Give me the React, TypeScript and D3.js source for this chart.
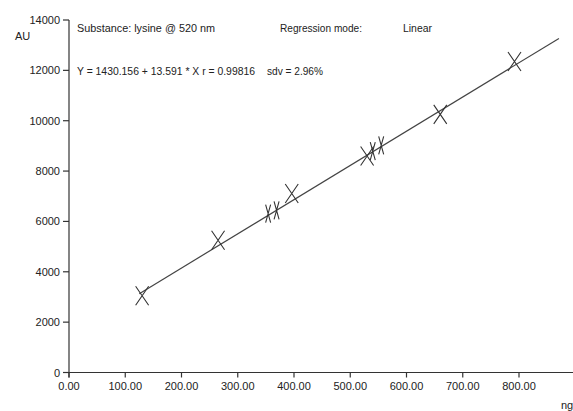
import React, { useEffect, useRef } from "react";
import * as d3 from "d3";

// calibration points
const bigX = [130, 265, 396, 530, 660, 792];
const bigY = [3050, 5250, 7110, 8600, 10250, 12350];
const smallX = [354, 369, 540, 555];
const smallY = [6310, 6440, 8790, 9020];

const xTicks = [0, 100, 200, 300, 400, 500, 600, 700, 800];
const yTicks = [0, 2000, 4000, 6000, 8000, 10000, 12000, 14000];

// regression from the chart text
const intercept = 1430.156;
const slope = 13.591;
const lineRange = [125, 871];

const App = () => {
  const ref = useRef<SVGSVGElement>(null);

  useEffect(() => {
    const width = 573;
    const height = 411;
    const svg = d3.select(ref.current).attr("width", width).attr("height", height);
    svg.selectAll("*").remove();

    const x = d3.scaleLinear().domain([0, 800]).range([69, 519]);
    const y = d3.scaleLinear().domain([0, 14000]).range([372.5, 20]);
    const ink = "#333";
    const font = "'Liberation Sans', Arial, sans-serif";

    svg.append("rect").attr("width", width).attr("height", height).attr("fill", "#fff");

    // y axis
    svg.append("line")
      .attr("x1", x(0)).attr("x2", x(0))
      .attr("y1", y(14000)).attr("y2", y(0) + 5)
      .attr("stroke", ink).attr("stroke-width", 1.2);
    svg.selectAll(".ytick").data(yTicks).join("line")
      .attr("x1", x(0) - 6).attr("x2", x(0))
      .attr("y1", d => y(d)).attr("y2", d => y(d))
      .attr("stroke", ink).attr("stroke-width", 1.2);
    svg.selectAll(".ylab").data(yTicks).join("text")
      .attr("x", x(0) - 9).attr("y", d => y(d) + 4)
      .attr("text-anchor", "end")
      .style("font-family", font).style("font-size", "11px").attr("fill", "#222")
      .text(d => d);
    svg.append("text").attr("x", 15).attr("y", 40)
      .style("font-family", font).style("font-size", "11px").attr("fill", "#222")
      .text("AU");

    // x axis
    svg.append("line")
      .attr("x1", x(0)).attr("x2", width)
      .attr("y1", y(0)).attr("y2", y(0))
      .attr("stroke", ink).attr("stroke-width", 1.2);
    svg.selectAll(".xtick").data(xTicks).join("line")
      .attr("x1", d => x(d)).attr("x2", d => x(d))
      .attr("y1", y(0)).attr("y2", y(0) + 5)
      .attr("stroke", ink).attr("stroke-width", 1.2);
    svg.selectAll(".xlab").data(xTicks).join("text")
      .attr("x", d => x(d)).attr("y", y(0) + 17)
      .attr("text-anchor", "middle")
      .style("font-family", font).style("font-size", "11px").attr("fill", "#222")
      .text(d => d3.format(".2f")(d));
    svg.append("text").attr("x", 561).attr("y", 409)
      .style("font-family", font).style("font-size", "11px").attr("fill", "#222")
      .text("ng");

    // header texts
    const header = [
      { t: "Substance: lysine @ 520 nm", x: 77, y: 32, w: 138 },
      { t: "Regression mode:", x: 280, y: 32, w: 82 },
      { t: "Linear", x: 403, y: 32, w: 29 },
      { t: "Y = 1430.156 + 13.591 * X  r = 0.99816", x: 77, y: 75, w: 178 },
      { t: "sdv = 2.96%", x: 267, y: 75, w: 56 },
    ];
    svg.selectAll(".hdr").data(header).join("text")
      .attr("x", d => d.x).attr("y", d => d.y)
      .attr("textLength", d => d.w).attr("lengthAdjust", "spacingAndGlyphs")
      .style("font-family", font).style("font-size", "11px").attr("fill", "#222")
      .text(d => d.t);

    // regression line
    svg.append("line")
      .attr("x1", x(lineRange[0])).attr("y1", y(intercept + slope * lineRange[0]))
      .attr("x2", x(lineRange[1])).attr("y2", y(intercept + slope * lineRange[1]))
      .attr("stroke", "#444").attr("stroke-width", 1.2);

    // markers
    const drawCross = (xs: number[], ys: number[], hw: number, hh: number) => {
      xs.forEach((xv, i) => {
        const cx = x(xv);
        const cy = y(ys[i]);
        svg.append("path")
          .attr("d", `M${cx - hw},${cy - hh}L${cx + hw},${cy + hh}M${cx + hw},${cy - hh}L${cx - hw},${cy + hh}`)
          .attr("stroke", ink).attr("stroke-width", 1.1).attr("fill", "none");
      });
    };
    drawCross(bigX, bigY, 6.5, 9.5);
    drawCross(smallX, smallY, 2.5, 9);
  }, []);

  return <svg ref={ref} style={{ position: "absolute", left: 0, top: 0 }}></svg>;
};

export default App;
